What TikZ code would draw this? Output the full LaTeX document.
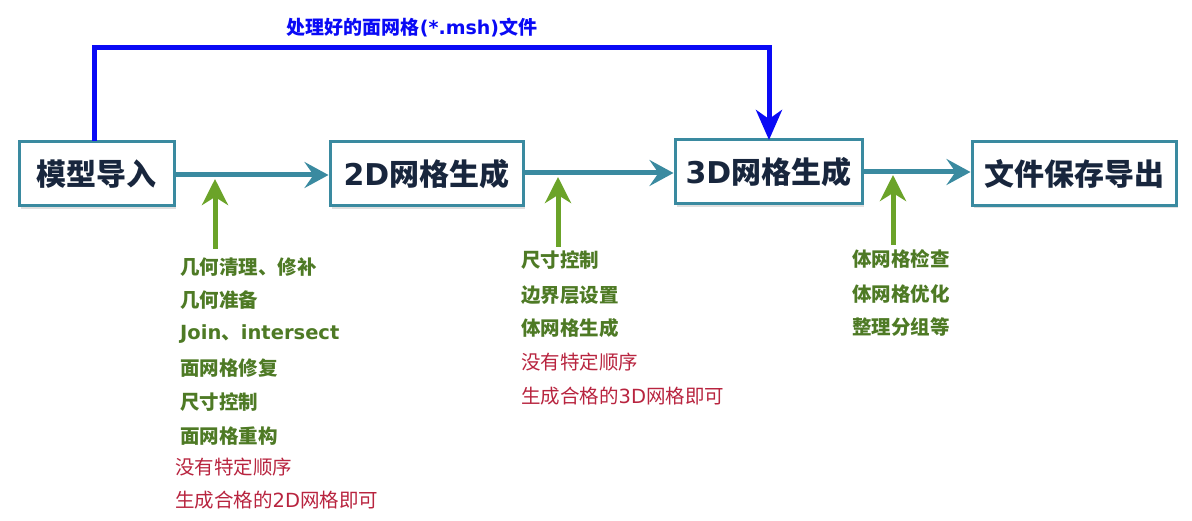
\documentclass[tikz,border=0pt]{standalone}
\usepackage{fontspec}
\setmainfont{Noto Sans CJK SC}
\newfontfamily\latin{DejaVu Sans}
\usetikzlibrary{arrows.meta,shadows}
\definecolor{boxborder}{HTML}{3A8AA0}
\definecolor{boxtext}{HTML}{18263D}
\definecolor{tealarrow}{HTML}{3A8AA0}
\definecolor{greenarrow}{HTML}{6BA329}
\definecolor{greentext}{HTML}{4E7A25}
\definecolor{redtext}{HTML}{B8243F}
\definecolor{bluearrow}{HTML}{0A0AF5}
\begin{document}
\begin{tikzpicture}[x=1pt,y=-1pt,
  stagebox/.style={draw=boxborder,line width=3pt,fill=white,minimum height=64pt,
    inner sep=0pt,font=\fontsize{30}{32}\selectfont\bfseries,text=boxtext,
    drop shadow={shadow xshift=2pt,shadow yshift=-3pt,opacity=0.25}},
  flow/.style={draw=tealarrow,line width=5pt,
    -{Stealth[length=24pt,width=26pt,inset=9pt]}},
  feed/.style={draw=greenarrow,line width=5pt,
    -{Stealth[length=26pt,width=26pt,inset=8pt]}},
  fileflow/.style={draw=bluearrow,line width=5pt,
    -{Stealth[length=30pt,width=26pt,inset=9pt]}},
  stepitem/.style={anchor=west,inner sep=0pt,text=greentext,
    font=\fontsize{19.5}{22}\selectfont\bfseries},
  noteitem/.style={anchor=west,inner sep=0pt,text=redtext,
    font=\fontsize{19.5}{22}\selectfont}
]
\useasboundingbox (0,0) rectangle (1192,521);

\node[stagebox,minimum width=155pt] (b1) at (96.5,174) {模型导入};
\node[stagebox,minimum width=193pt] (b2) at (426.5,174) {{\latin 2D}网格生成};
\node[stagebox,minimum width=187pt] (b3) at (768.5,172) {{\latin 3D}网格生成};
\node[stagebox,minimum width=204pt] (b4) at (1074,173.5) {文件保存导出};

\draw[flow] (b1.east |- 0,175) -- (b2.west |- 0,175);
\draw[flow] (b2.east |- 0,173) -- (b3.west |- 0,173);
\draw[flow] (b3.east |- 0,172) -- (b4.west |- 0,172);

% blue top connector
\coordinate (bstart) at (94,141);
\coordinate (bend) at (769,140);
\draw[fileflow] (bstart) -- (94,48) -- (769,48) -- (bend);
\node[inner sep=0pt,text=bluearrow,font=\fontsize{19}{22}\selectfont\bfseries] (blabel) at (412,28) {处理好的面网格{\latin(*.msh)}文件};

% green feed arrows
\coordinate (g1s) at (215,249);
\coordinate (g1e) at (215,179);
\coordinate (g2s) at (558,247);
\coordinate (g2e) at (558,177);
\coordinate (g3s) at (893,245);
\coordinate (g3e) at (893,175);
\draw[feed] (g1s) -- (g1e);
\draw[feed] (g2s) -- (g2e);
\draw[feed] (g3s) -- (g3e);

% list 1
\node[stepitem] (l1a) at (180,267) {几何清理、修补};
\node[stepitem] (l1b) at (180,300) {几何准备};
\node[stepitem] (l1c) at (180,334) {{\latin Join}、{\latin intersect}};
\node[stepitem] (l1d) at (180,368) {面网格修复};
\node[stepitem] (l1e) at (180,402) {尺寸控制};
\node[stepitem] (l1f) at (180,436) {面网格重构};
\node[noteitem] (l1g) at (175,467) {没有特定顺序};
\node[noteitem] (l1h) at (175,500) {生成合格的{\latin 2D}网格即可};

% list 2
\node[stepitem] (l2a) at (521,260) {尺寸控制};
\node[stepitem] (l2b) at (521,295) {边界层设置};
\node[stepitem] (l2c) at (521,328) {体网格生成};
\node[noteitem] (l2d) at (521,362) {没有特定顺序};
\node[noteitem] (l2e) at (521,396) {生成合格的{\latin 3D}网格即可};

% list 3
\node[stepitem] (l3a) at (852,259) {体网格检查};
\node[stepitem] (l3b) at (852,294) {体网格优化};
\node[stepitem] (l3c) at (852,327) {整理分组等};
\end{tikzpicture}
\end{document}
